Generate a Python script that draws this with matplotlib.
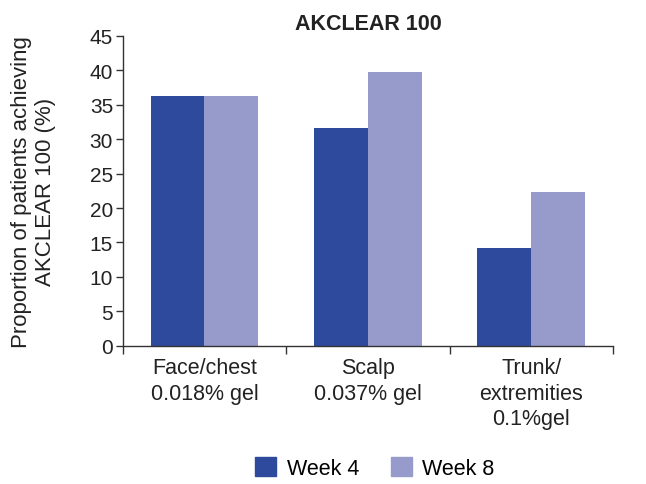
import numpy as np
from matplotlib import pyplot as plt
from matplotlib.patches import Patch

plt.rcParams['font.family'] = ['Liberation Sans', 'DejaVu Sans']

categories = ["Face/chest\n0.018% gel", "Scalp\n0.037% gel", "Trunk/\nextremities\n0.1%gel"]
week4 = [36.2, 31.6, 14.2]
week8 = [36.2, 39.7, 22.4]
yticks = list(range(0, 50, 5))

dark = "#2e4a9c"
light = "#969bcb"
axis_col = "#333333"

fig = plt.figure(figsize=(6.46, 4.85), dpi=100)
ax = fig.add_axes([0.19, 0.285, 0.759, 0.639])

x = np.arange(len(categories)) + 0.5
w = 0.33
ax.bar(x - w / 2, week4, width=w, color=dark)
ax.bar(x + w / 2, week8, width=w, color=light)

ax.set_xlim(0, 3)
ax.set_ylim(0, 45)
ax.set_yticks(yticks)

# boundary ticks as major, labels on minor ticks at the centres
ax.set_xticks(np.arange(0, 4))
ax.set_xticklabels([])
ax.set_xticks(x, minor=True)
ax.set_xticklabels(categories, minor=True, fontsize=15.5, color="#222222", linespacing=1.3)
ax.tick_params(axis="x", which="major", direction="out", length=6, width=1, color=axis_col)
ax.tick_params(axis="x", which="minor", length=0, pad=8)
ax.tick_params(axis="y", direction="out", length=5, width=1, color=axis_col, labelsize=15,
               labelcolor="#222222", pad=2)

for s in ["top", "right"]:
    ax.spines[s].set_visible(False)
for s in ["left", "bottom"]:
    ax.spines[s].set_color(axis_col)
    ax.spines[s].set_linewidth(1)

ax.set_title("AKCLEAR 100", fontsize=15.5, fontweight="bold", color="#222222", pad=5)
ax.set_ylabel("Proportion of patients achieving\nAKCLEAR 100 (%)", fontsize=16,
              color="#222222", labelpad=24, linespacing=1.2)

handles = [Patch(color=dark, label="Week 4"), Patch(color=light, label="Week 8")]
fig.legend(handles=handles, loc="center", bbox_to_anchor=(375 / 646, 1 - 469 / 485), ncol=2,
           frameon=False, fontsize=15.5, handlelength=0.95, handleheight=0.95,
           handletextpad=0.5, columnspacing=1.5)

fig.savefig("out.png", dpi=100)
